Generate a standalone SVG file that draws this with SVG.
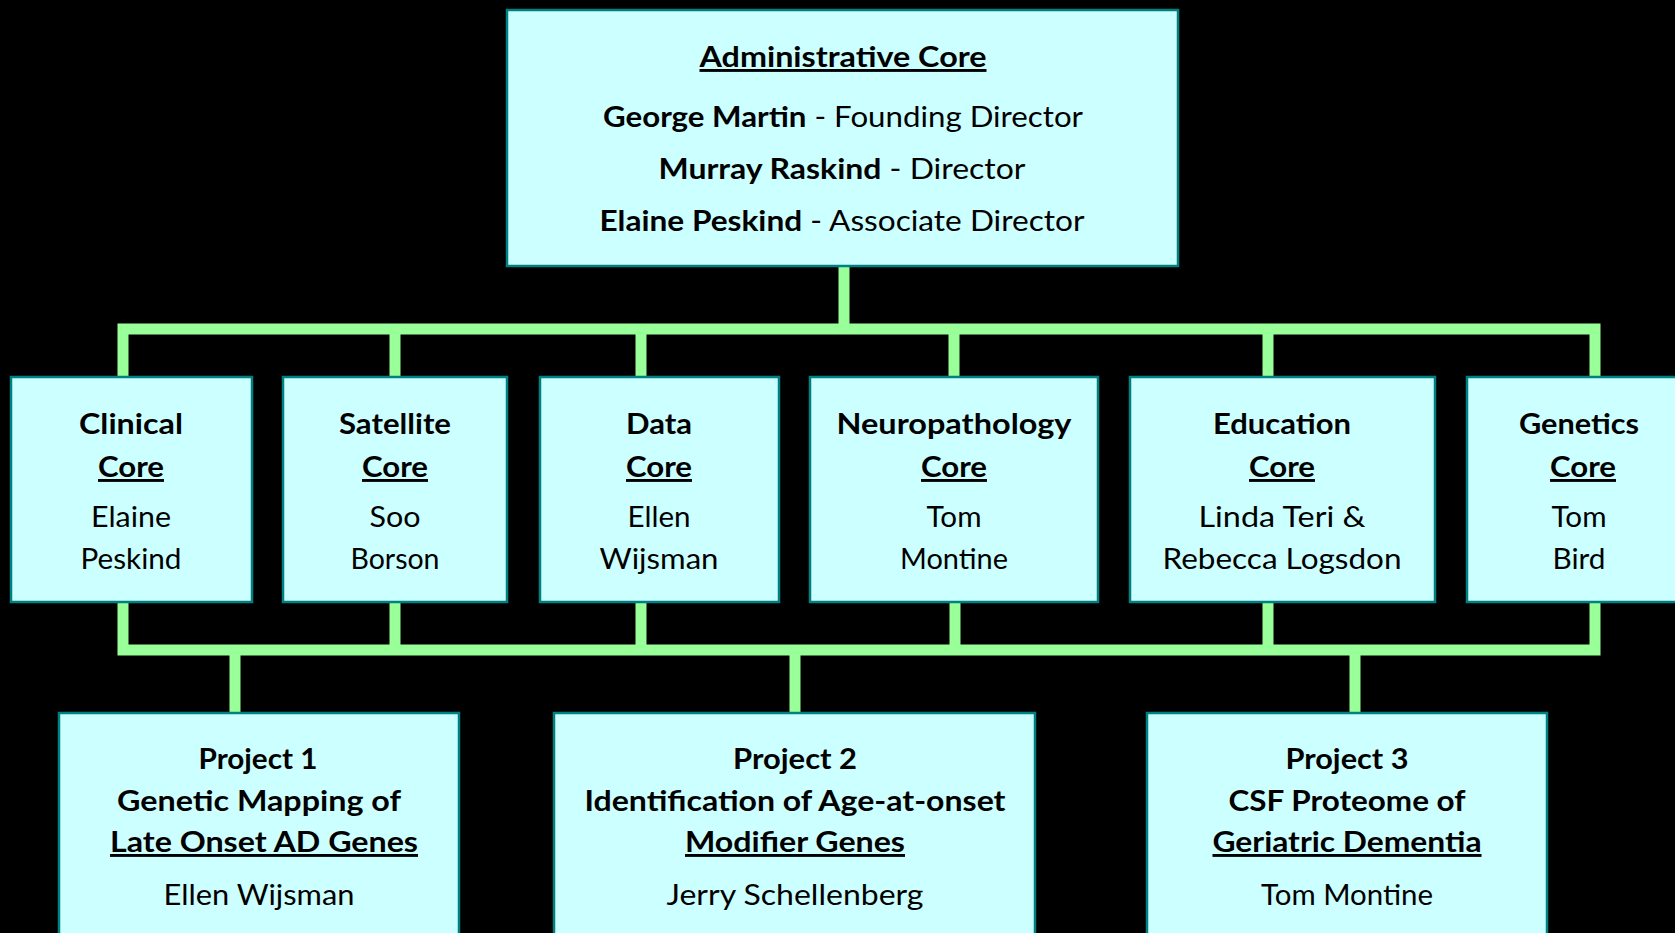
<svg xmlns="http://www.w3.org/2000/svg" width="1675" height="933" viewBox="0 0 1675 933">
<style>
.box{fill:#CCFFFF;stroke:#008080;stroke-width:2.5}
.conn{stroke:#99FF99;stroke-width:11;fill:none;stroke-linejoin:miter}
text{font-family:Lato,"Open Sans","Liberation Sans",sans-serif;font-size:29px;fill:#000;text-anchor:middle}
.b{font-weight:bold}
.u{text-decoration:underline}
</style>
<rect width="1675" height="933" fill="#000"/>
<g id="connectors">
<path class="conn" d="M844 265V329"/>
<path class="conn" d="M123 377V329H1595V377M395 329V377M641 329V377M954 329V377M1268 329V377"/>
<path class="conn" d="M123 602V650H1595V602M395 602V650M641 602V650M955 602V650M1268 602V650"/>
<path class="conn" d="M235 650V713M795 650V713M1355 650V713"/>
</g>
<g id="admin">
<rect class="box" x="507" y="10" width="671" height="256"/>
<text class="b u" x="843" y="67" textLength="287" lengthAdjust="spacingAndGlyphs">Administrative Core</text>
<text x="843" y="127" textLength="480" lengthAdjust="spacingAndGlyphs"><tspan class="b">George Martin</tspan> - Founding Director</text>
<text x="842" y="179" textLength="367" lengthAdjust="spacingAndGlyphs"><tspan class="b">Murray Raskind</tspan> - Director</text>
<text x="842" y="231" textLength="485" lengthAdjust="spacingAndGlyphs"><tspan class="b">Elaine Peskind</tspan> - Associate Director</text>
</g>
<g id="clinical">
<rect class="box" x="11" y="377" width="241" height="225"/>
<text class="b" x="131" y="434" textLength="104" lengthAdjust="spacingAndGlyphs">Clinical</text>
<text class="b u" x="131" y="477" textLength="66" lengthAdjust="spacingAndGlyphs">Core</text>
<text x="131" y="527" textLength="80" lengthAdjust="spacingAndGlyphs">Elaine</text>
<text x="131" y="569" textLength="101" lengthAdjust="spacingAndGlyphs">Peskind</text>
</g>
<g id="satellite">
<rect class="box" x="283" y="377" width="224" height="225"/>
<text class="b" x="395" y="434" textLength="112" lengthAdjust="spacingAndGlyphs">Satellite</text>
<text class="b u" x="395" y="477" textLength="66" lengthAdjust="spacingAndGlyphs">Core</text>
<text x="395" y="527" textLength="51" lengthAdjust="spacingAndGlyphs">Soo</text>
<text x="395" y="569" textLength="89" lengthAdjust="spacingAndGlyphs">Borson</text>
</g>
<g id="data">
<rect class="box" x="540" y="377" width="239" height="225"/>
<text class="b" x="659" y="434" textLength="66" lengthAdjust="spacingAndGlyphs">Data</text>
<text class="b u" x="659" y="477" textLength="66" lengthAdjust="spacingAndGlyphs">Core</text>
<text x="659" y="527" textLength="63" lengthAdjust="spacingAndGlyphs">Ellen</text>
<text x="659" y="569" textLength="119" lengthAdjust="spacingAndGlyphs">Wijsman</text>
</g>
<g id="neuropathology">
<rect class="box" x="810" y="377" width="288" height="225"/>
<text class="b" x="954" y="434" textLength="235" lengthAdjust="spacingAndGlyphs">Neuropathology</text>
<text class="b u" x="954" y="477" textLength="66" lengthAdjust="spacingAndGlyphs">Core</text>
<text x="954" y="527" textLength="55" lengthAdjust="spacingAndGlyphs">Tom</text>
<text x="954" y="569" textLength="108" lengthAdjust="spacingAndGlyphs">Montine</text>
</g>
<g id="education">
<rect class="box" x="1130" y="377" width="305" height="225"/>
<text class="b" x="1282" y="434" textLength="138" lengthAdjust="spacingAndGlyphs">Education</text>
<text class="b u" x="1282" y="477" textLength="66" lengthAdjust="spacingAndGlyphs">Core</text>
<text x="1282" y="527" textLength="167" lengthAdjust="spacingAndGlyphs">Linda Teri &amp;</text>
<text x="1282" y="569" textLength="239" lengthAdjust="spacingAndGlyphs">Rebecca Logsdon</text>
</g>
<g id="genetics">
<rect class="box" x="1467" y="377" width="230" height="225"/>
<text class="b" x="1579" y="434" textLength="120" lengthAdjust="spacingAndGlyphs">Genetics</text>
<text class="b u" x="1583" y="477" textLength="66" lengthAdjust="spacingAndGlyphs">Core</text>
<text x="1579" y="527" textLength="55" lengthAdjust="spacingAndGlyphs">Tom</text>
<text x="1579" y="569" textLength="53" lengthAdjust="spacingAndGlyphs">Bird</text>
</g>
<g id="project1">
<rect class="box" x="59" y="713" width="400" height="240"/>
<text class="b" x="258" y="769" textLength="119" lengthAdjust="spacingAndGlyphs">Project 1</text>
<text class="b" x="259" y="811" textLength="284" lengthAdjust="spacingAndGlyphs">Genetic Mapping of</text>
<text class="b u" x="264" y="852" textLength="308" lengthAdjust="spacingAndGlyphs">Late Onset AD Genes</text>
<text x="259" y="905" textLength="191" lengthAdjust="spacingAndGlyphs">Ellen Wijsman</text>
</g>
<g id="project2">
<rect class="box" x="554" y="713" width="481" height="240"/>
<text class="b" x="795" y="769" textLength="124" lengthAdjust="spacingAndGlyphs">Project 2</text>
<text class="b" x="795" y="811" textLength="421" lengthAdjust="spacingAndGlyphs">Identification of Age-at-onset</text>
<text class="b u" x="795" y="852" textLength="220" lengthAdjust="spacingAndGlyphs">Modifier Genes</text>
<text x="795" y="905" textLength="257" lengthAdjust="spacingAndGlyphs">Jerry Schellenberg</text>
</g>
<g id="project3">
<rect class="box" x="1147" y="713" width="400" height="240"/>
<text class="b" x="1347" y="769" textLength="123" lengthAdjust="spacingAndGlyphs">Project 3</text>
<text class="b" x="1347" y="811" textLength="237" lengthAdjust="spacingAndGlyphs">CSF Proteome of</text>
<text class="b u" x="1347" y="852" textLength="269" lengthAdjust="spacingAndGlyphs">Geriatric Dementia</text>
<text x="1347" y="905" textLength="172" lengthAdjust="spacingAndGlyphs">Tom Montine</text>
</g>
</svg>
